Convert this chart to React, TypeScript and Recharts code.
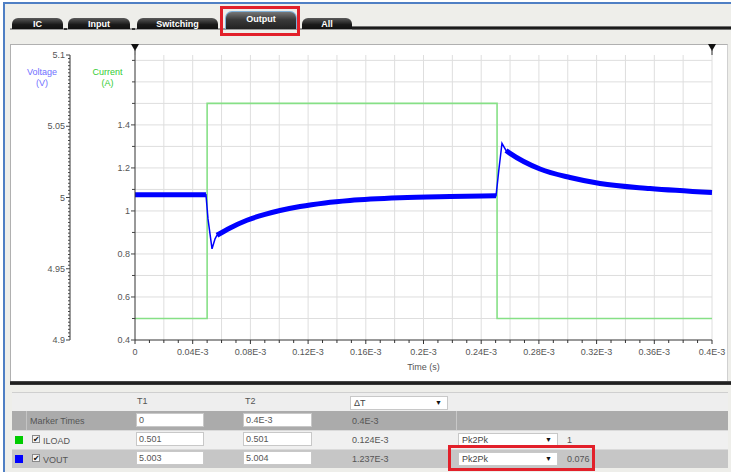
import React from 'react';
import { LineChart, Line, XAxis, YAxis, ReferenceLine } from 'recharts';

// ---------- data ----------
const timeTicks = [0, 0.04, 0.08, 0.12, 0.16, 0.2, 0.24, 0.28, 0.32, 0.36, 0.4];
const timeTickLabels = ['0', '0.04E-3', '0.08E-3', '0.12E-3', '0.16E-3', '0.2E-3', '0.24E-3', '0.28E-3', '0.32E-3', '0.36E-3', '0.4E-3'];
const voltTicks = [4.9, 4.95, 5, 5.05, 5.1];
const voltTickLabels = ['4.9', '4.95', '5', '5.05', '5.1'];
const currTicks = [0.4, 0.6, 0.8, 1, 1.2, 1.4];
const currTickLabels = ['0.4', '0.6', '0.8', '1', '1.2', '1.4'];
const markerTimes = [0, 0.4];

const iloadTime = [0, 0.05, 0.05, 0.251, 0.251, 0.4];
const iloadValue = [0.5, 0.5, 1.5, 1.5, 0.5, 0.5];

const voutTime = [0, 0.0492, 0.0506, 0.0534, 0.0555, 0.0568, 0.0659, 0.0776, 0.0901, 0.1005, 0.1144, 0.1317, 0.149, 0.1837, 0.2184, 0.2503, 0.2523, 0.2544, 0.2572, 0.26, 0.2808, 0.3016, 0.3224, 0.357, 0.4];
const voutValue = [5.002, 5.002, 4.985, 4.964, 4.971, 4.9735, 4.9786, 4.984, 4.9882, 4.9909, 4.9937, 4.9962, 4.9979, 4.9998, 5.0007, 5.0013, 5.02, 5.038, 5.033, 5.031, 5.02, 5.014, 5.0098, 5.0063, 5.0035];
// fast transient windows (drawn thin)
const transientWindows = [[0.0492, 0.0568], [0.2503, 0.2572]];

const tableRows = [
  { name: 'ILOAD', color: '#00cc00', t1: '0.501', t2: '0.501', dt: '0.124E-3', stat: 'Pk2Pk', val: '1' },
  { name: 'VOUT', color: '#0000ff', t1: '5.003', t2: '5.004', dt: '1.237E-3', stat: 'Pk2Pk', val: '0.076' },
];
const markerRow = { t1: '0', t2: '0.4E-3', dt: '0.4E-3' };
const tabs = [
  { label: 'IC', x: 12, w: 51 },
  { label: 'Input', x: 68, w: 62 },
  { label: 'Switching', x: 137, w: 81 },
  { label: 'Output', x: 225, w: 72, active: true },
  { label: 'All', x: 302, w: 50 },
];

// ---------- derived ----------
const iloadData = iloadTime.map((t, i) => ({ t, i: iloadValue[i] }));
const voutThin = voutTime.map((t, i) => ({ t, v: voutValue[i] }));
const voutThick = voutTime.map((t, i) => ({
  t,
  v: transientWindows.some(([a, b]) => t > a && t < b) ? null : voutValue[i],
}));
const range = (a: number, b: number, s: number) => {
  const n = Math.round((b - a) / s);
  return Array.from({ length: n + 1 }, (_, k) => Math.round((a + k * s) * 100000) / 100000);
};
const timeMinor = range(0, 0.4, 0.01);
const timeGrid = range(0.02, 0.4, 0.02);
const voltMinor = range(4.9, 5.1, 0.0025);
const currMinor = range(0.4, 1.7, 0.1);
const currGrid = range(0.5, 1.7, 0.1);

const FONT = '"Liberation Sans", Arial, sans-serif';
const GRID = '#dedede';
const near = (a: number, b: number) => Math.abs(a - b) < 1e-7;

const XTick = (props: any) => {
  const { x, y, payload } = props;
  const idx = timeTicks.findIndex((m) => near(m, payload.value));
  return (
    <g>
      <line x1={x} x2={x} y1={y} y2={y + (idx >= 0 ? 4 : 3)} stroke="#333" />
      {idx >= 0 && (
        <text x={x} y={y + 15} textAnchor="middle" fontSize={9} fill="#555" fontFamily={FONT}>
          {timeTickLabels[idx]}
        </text>
      )}
    </g>
  );
};

const makeYTick = (majors: number[], labels: string[], minorLen: number) => (props: any) => {
  const { x, y, payload } = props;
  const idx = majors.findIndex((m) => near(m, payload.value));
  return (
    <g>
      <line x1={x} x2={x - (idx >= 0 ? 4 : minorLen)} y1={y} y2={y} stroke="#444" />
      {idx >= 0 && (
        <text x={x - 5} y={y + 3} textAnchor="end" fontSize={9} fill="#555" fontFamily={FONT}>
          {labels[idx]}
        </text>
      )}
    </g>
  );
};
const VoltTick = makeYTick(voltTicks, voltTickLabels, 2);
const CurrTick = makeYTick(currTicks, currTickLabels, 3);

const AxisTitle = (props: any) => {
  const { viewBox, lines, color, dx } = props;
  if (!viewBox) return null;
  const cx = viewBox.x + viewBox.width / 2 + dx;
  return (
    <text textAnchor="middle" fontSize={9} fill={color} fontFamily={FONT}>
      <tspan x={cx} y={viewBox.y + 20}>{lines[0]}</tspan>
      <tspan x={cx} y={viewBox.y + 31}>{lines[1]}</tspan>
    </text>
  );
};

const TimeTitle = (props: any) => {
  const { viewBox } = props;
  if (!viewBox) return null;
  return (
    <text x={viewBox.x + viewBox.width / 2} y={viewBox.y + 30} textAnchor="middle" fontSize={9} fill="#555" fontFamily={FONT}>
      Time (s)
    </text>
  );
};

const MarkerTri = (props: any) => {
  const { viewBox } = props;
  if (!viewBox) return null;
  const x = viewBox.x;
  const y = viewBox.y;
  return (
    <g>
      <line x1={x} x2={x} y1={y - 5} y2={y} stroke="#222" />
      <polygon points={`${x - 4},${y - 11} ${x + 4},${y - 11} ${x},${y - 4}`} fill="#111" />
    </g>
  );
};

const Chart = () => (
  <LineChart width={717} height={338} margin={{ top: 11, right: 15, bottom: 0, left: 0 }}>
    <XAxis
      dataKey="t"
      type="number"
      domain={[0, 0.4]}
      ticks={timeMinor}
      interval={0}
      tick={<XTick />}
      tickLine={false}
      tickSize={0}
      tickMargin={0}
      height={42}
      stroke="#333"
      allowDuplicatedCategory={false}
      label={<TimeTitle />}
    />
    <YAxis
      yAxisId="cur"
      type="number"
      domain={[0.4, 1.725]}
      ticks={currMinor}
      interval={0}
      tick={<CurrTick />}
      tickLine={false}
      tickSize={0}
      tickMargin={0}
      width={65}
      stroke="#333"
      label={<AxisTitle lines={['Current', '(A)']} color="#33cc33" dx={5} />}
    />
    <YAxis
      yAxisId="volt"
      type="number"
      domain={[4.9, 5.1]}
      ticks={voltMinor}
      interval={0}
      tick={<VoltTick />}
      tickLine={false}
      tickSize={0}
      tickMargin={0}
      width={60}
      stroke="#333"
      label={<AxisTitle lines={['Voltage', '(V)']} color="#6f6fff" dx={2} />}
    />
    {timeGrid.map((g) => (
      <ReferenceLine key={'gx' + g} x={g} yAxisId="cur" stroke={GRID} strokeWidth={1} />
    ))}
    {currGrid.map((g) => (
      <ReferenceLine key={'gy' + g} y={g} yAxisId="cur" stroke={GRID} strokeWidth={1} />
    ))}
    {markerTimes.map((m) => (
      <ReferenceLine key={m} x={m} yAxisId="cur" stroke="none" ifOverflow="visible" label={<MarkerTri />} />
    ))}
    <Line data={iloadData} dataKey="i" yAxisId="cur" type="linear" stroke="#86e086" strokeWidth={1.6} dot={false} isAnimationActive={false} />
    <Line data={voutThin} dataKey="v" yAxisId="volt" type="linear" stroke="#0000ff" strokeWidth={1.5} dot={false} isAnimationActive={false} />
    <Line data={voutThick} dataKey="v" yAxisId="volt" type="monotone" stroke="#0000ff" strokeWidth={5} dot={false} connectNulls={false} isAnimationActive={false} />
  </LineChart>
);

const abs = (l: number, t: number, w: number, h: number, extra: any = {}) => ({
  position: 'absolute' as const, left: l, top: t, width: w, height: h, boxSizing: 'border-box' as const, ...extra,
});

const Txt = ({ x, y, children, color = '#555', size = 9, bold = false }: any) => (
  <div style={{ position: 'absolute', left: x, top: y - 6, fontSize: size, lineHeight: '12px', color, fontFamily: FONT, fontWeight: bold ? 'bold' : 'normal', whiteSpace: 'nowrap' }}>
    {children}
  </div>
);

const Input = ({ x, y, w, value }: any) => (
  <div style={abs(x, y, w, 14, { background: '#fff', border: '1px solid #c8c8c8', fontSize: 9, fontFamily: FONT, color: '#555', paddingLeft: 2, lineHeight: '12px' })}>
    {value}
  </div>
);

const Select = ({ x, y, w, value }: any) => (
  <div style={abs(x, y, w, 14, { background: '#fff', border: '1px solid #c8c8c8', fontSize: 9, fontFamily: FONT, color: '#444', paddingLeft: 3, lineHeight: '12px' })}>
    {value}
    <span style={{ position: 'absolute', right: 5, top: 0, fontSize: 7, color: '#111' }}>▼</span>
  </div>
);

const CheckBox = ({ x, y }: any) => (
  <div style={abs(x, y, 8, 8, { background: '#f4f4f4', border: '1px solid #888', fontSize: 8, lineHeight: '7px', color: '#111', textAlign: 'center', fontFamily: 'DejaVu Sans' })}>
    ✔
  </div>
);

export default function App() {
  const rowTops = [430, 449];
  const rowBgs = ['#f0f0f0', '#c6c6c6'];
  return (
    <div style={{ position: 'absolute', left: 0, top: 0, width: 731, height: 472, overflow: 'hidden', background: '#ffffff' }}>
      {/* window background */}
      <div style={abs(4, 3, 727, 469, { background: '#eeeeea' })} />
      <div style={abs(4, 2, 727, 2, { background: '#4f7fc4' })} />
      <div style={abs(3, 2, 2, 470, { background: '#4f7fc4' })} />

      {/* tabs */}
      <div style={abs(10, 28, 343, 2, { background: '#9a9a9a' })} />
      <div style={abs(352, 26, 379, 4, { background: 'linear-gradient(#9a9a9a, #111 40%, #222 70%, #aaa)' })} />
      <div style={abs(64, 28, 3, 2, { background: '#333' })} />
      <div style={abs(132, 28, 3, 2, { background: '#333' })} />
      {tabs.map((t) =>
        t.active ? (
          <div key={t.label} style={abs(t.x, 11, t.w, 18, {
            background: 'linear-gradient(#777, #3a3a3a 45%, #222)', borderRadius: '7px 7px 0 0',
            border: '1px solid #7fb0d8', borderBottom: 'none', color: '#fff', fontWeight: 'bold', fontSize: 9,
            fontFamily: FONT, textAlign: 'center', lineHeight: '14px',
          })}>{t.label}</div>
        ) : (
          <div key={t.label} style={abs(t.x, 18, t.w, 11, {
            background: 'linear-gradient(#5a5a5a, #1a1a1a 60%, #111)', borderRadius: '6px 6px 0 0',
            color: '#fff', fontWeight: 'bold', fontSize: 9, fontFamily: FONT, textAlign: 'center', lineHeight: '12px',
          })}>{t.label}</div>
        )
      )}
      <div style={abs(220, 6, 80, 30, { border: '3px solid #e2202a' })} />

      {/* chart panel */}
      <div style={abs(10, 44, 718, 339, { background: '#fff', borderLeft: '1px solid #b0b0b0', borderTop: '1px solid #b0b0b0', borderRight: '1px solid #d0d0d0' })} />
      <div style={abs(10, 381, 721, 4, { background: 'linear-gradient(#555, #111 50%, #444)' })} />
      <div style={{ position: 'absolute', left: 10, top: 44 }}>
        <Chart />
      </div>

      {/* table */}
      <div style={abs(12, 392, 716, 19, { background: '#eeeeee', borderTop: '1px solid #cfcfcf' })} />
      <Txt x={137} y={401}>T1</Txt>
      <Txt x={245} y={401}>T2</Txt>
      <Select x={350} y={396} w={98} value="ΔT" />

      <div style={abs(12, 411, 716, 19, { background: '#ababab' })} />
      <div style={abs(26, 411, 1, 19, { background: '#c4c4c4' })} />
      <div style={abs(456, 411, 1, 19, { background: '#c8c8c8' })} />
      <Txt x={30} y={421} color="#555">Marker Times</Txt>
      <Input x={136} y={413} w={68} value={markerRow.t1} />
      <Input x={243} y={413} w={69} value={markerRow.t2} />
      <Txt x={352} y={421}>{markerRow.dt}</Txt>

      {tableRows.map((r, k) => {
        const top = rowTops[k];
        return (
          <React.Fragment key={r.name}>
            <div style={abs(12, top, 716, 19, { background: rowBgs[k], borderTop: '1px solid #dadada' })} />
            <div style={abs(15, top + 6, 8, 8, { background: r.color })} />
            <CheckBox x={32} y={top + 5} />
            <Txt x={43} y={top + 11}>{r.name}</Txt>
            <Input x={136} y={top + 2} w={68} value={r.t1} />
            <Input x={243} y={top + 2} w={69} value={r.t2} />
            <Txt x={352} y={top + 10}>{r.dt}</Txt>
            <Select x={458} y={top + 3} w={100} value={r.stat} />
            <Txt x={567} y={top + 10}>{r.val}</Txt>
          </React.Fragment>
        );
      })}
      <div style={abs(448, 445, 147, 26, { border: '3px solid #e2202a' })} />
    </div>
  );
}
